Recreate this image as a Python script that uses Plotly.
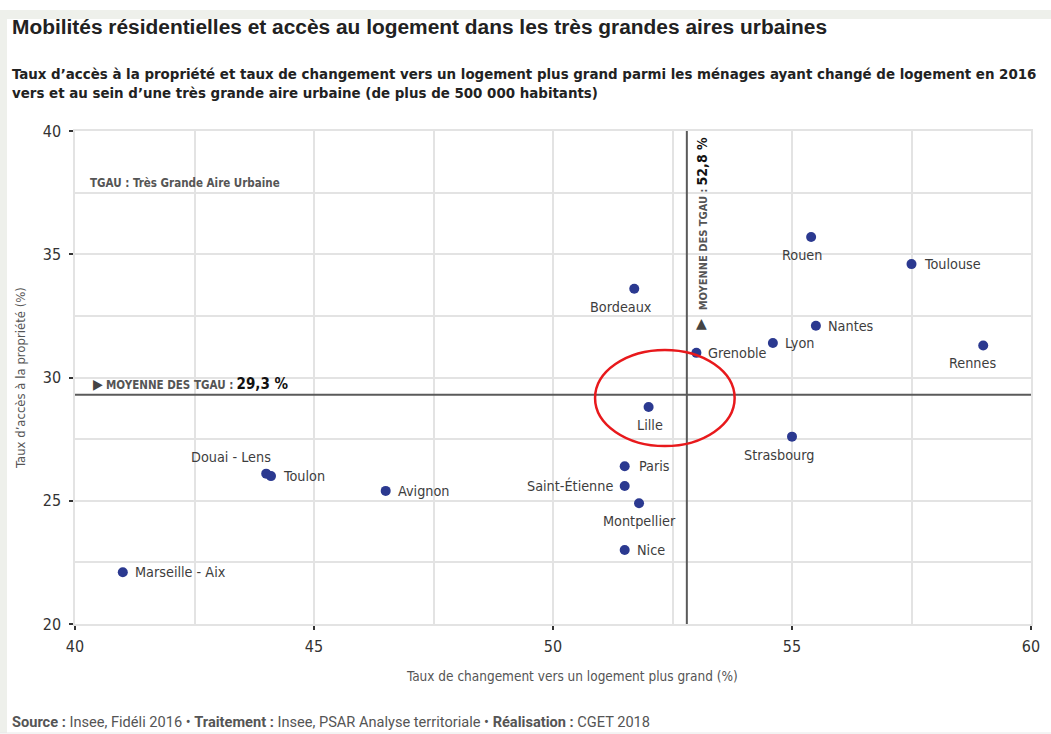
import plotly.graph_objects as go

# ---- data ----
cities = ["Marseille - Aix", "Douai - Lens", "Toulon", "Avignon", "Bordeaux", "Rouen",
          "Toulouse", "Nantes", "Lyon", "Grenoble", "Rennes", "Lille", "Strasbourg",
          "Paris", "Saint-Étienne", "Montpellier", "Nice"]
taux_plus_grand = [41.0, 44.0, 44.1, 46.5, 51.7, 55.4, 57.5, 55.5, 54.6, 53.0, 59.0,
                   52.0, 55.0, 51.5, 51.5, 51.8, 51.5]
taux_propriete = [22.1, 26.1, 26.0, 25.4, 33.6, 35.7, 34.6, 32.1, 31.4, 31.0, 31.3,
                  28.8, 27.6, 26.4, 25.6, 24.9, 23.0]
moyenne_x = 52.8
moyenne_y = 29.3
x_ticks = [40, 45, 50, 55, 60]
y_ticks = [20, 25, 30, 35, 40]
highlight_city = "Lille"

# label placement (style only): side, horizontal pixel shift
label_pos = {
    "Marseille - Aix": ("right", 0), "Douai - Lens": ("upleft", 0), "Toulon": ("right", 0),
    "Avignon": ("right", 0), "Bordeaux": ("below", -13), "Rouen": ("below", -9),
    "Toulouse": ("right", 0), "Nantes": ("right", 0), "Lyon": ("right", 0),
    "Grenoble": ("right", 0), "Rennes": ("below", -11), "Lille": ("below", 1),
    "Strasbourg": ("below", -13), "Paris": ("right", 2), "Saint-Étienne": ("left", 0),
    "Montpellier": ("below", 0), "Nice": ("right", 0),
}

NARROW = "DejaVu Sans Condensed, Roboto"
SANS = "Liberation Sans"
LABEL_COL = "#3d3d3d"
GRID = "#e3e3e3"

L, R, T, B = 75, 20, 131, 110
W, H = 1051, 734
PW, PH = W - L - R, H - T - B


def px(xp):
    return (xp - L) / PW


def py(yp):
    return (H - B - yp) / PH


fig = go.Figure()
fig.add_trace(go.Scatter(
    x=taux_plus_grand, y=taux_propriete, mode="markers",
    marker=dict(size=10, color="#2b3990"), text=cities,
    hoverinfo="text+x+y", showlegend=False, cliponaxis=False,
))

annotations = []
for c, xv, yv in zip(cities, taux_plus_grand, taux_propriete):
    p, dx = label_pos[c]
    a = dict(x=xv, y=yv, xref="x", yref="y", text=c, showarrow=False,
             font=dict(family=NARROW, size=14.3, color=LABEL_COL))
    if p == "right":
        a.update(xanchor="left", yanchor="middle", xshift=10 + dx)
    elif p == "left":
        a.update(xanchor="right", yanchor="middle", xshift=-10 + dx)
    elif p == "below":
        a.update(xanchor="center", yanchor="middle", yshift=-18, xshift=dx)
    elif p == "upleft":
        a.update(xanchor="right", yanchor="middle", yshift=17, xshift=7 + dx)
    annotations.append(a)

# titles
annotations += [
    dict(xref="paper", yref="paper", x=px(10), y=py(27), xanchor="left", yanchor="middle",
         text="<b>Mobilités résidentielles et accès au logement dans les très grandes aires urbaines</b>",
         showarrow=False, font=dict(family=SANS, size=20.9, color="#222222")),
    dict(xref="paper", yref="paper", x=px(10), y=py(63), xanchor="left", yanchor="top",
         align="left",
         text="<b>Taux d’accès à la propriété et taux de changement vers un logement plus grand parmi les ménages ayant changé de logement en 2016"
              "<br>vers et au sein d’une très grande aire urbaine (de plus de 500 000 habitants)</b>",
         showarrow=False, font=dict(family=NARROW, size=14.9, color="#222222")),
    dict(xref="paper", yref="paper", x=px(10), y=py(722), xanchor="left", yanchor="middle",
         text="<b>Source :</b> Insee, Fidéli 2016 • <b>Traitement :</b> Insee, PSAR Analyse territoriale • <b>Réalisation :</b> CGET 2018",
         showarrow=False, font=dict(family="Roboto", size=14.6, color="#555555")),
    # axis titles
    dict(xref="paper", yref="paper", x=px(572), y=py(676), xanchor="center", yanchor="middle",
         text="Taux de changement vers un logement plus grand (%)", showarrow=False,
         font=dict(family=NARROW, size=13.5, color="#555555")),
    dict(xref="paper", yref="paper", x=px(20), y=py(378), xanchor="center", yanchor="middle",
         text="Taux d’accès à la propriété (%)", textangle=-90, showarrow=False,
         font=dict(family=NARROW, size=13, color="#555555")),
    # note
    dict(xref="paper", yref="paper", x=px(88), y=py(183), xanchor="left", yanchor="middle",
         text="<b>TGAU : Très Grande Aire Urbaine</b>", showarrow=False,
         font=dict(family=NARROW, size=11.5, color="#555555")),
    # horizontal mean label
    dict(xref="paper", yref="y", x=px(91), y=moyenne_y, yshift=11, xanchor="left", yanchor="middle",
         text="<span style='color:#444;font-size:14px'>▶</span> <b>MOYENNE DES TGAU :</b> <b><span style='font-size:15px;color:#111'>"
              + f"{moyenne_y:.1f}".replace(".", ",") + " %</span></b>",
         showarrow=False, font=dict(family=NARROW, size=11.5, color="#555555")),
    # vertical mean label
    dict(xref="x", yref="paper", x=moyenne_x, y=py(135), xshift=15, xanchor="center", yanchor="top",
         text="<b>MOYENNE DES TGAU :</b> <b><span style='font-size:14px;color:#111'>"
              + f"{moyenne_x:.1f}".replace(".", ",") + " %</span></b>",
         textangle=-90, showarrow=False, font=dict(family=NARROW, size=11, color="#555555")),
    dict(xref="x", yref="paper", x=moyenne_x, y=py(323), xshift=15, xanchor="center", yanchor="middle",
         text="▲", showarrow=False, font=dict(family="DejaVu Sans", size=14, color="#444444")),
]

hi = cities.index(highlight_city)
hx, hy = taux_plus_grand[hi], taux_propriete[hi]

shapes = [
    # frame decorations
    dict(type="rect", xref="paper", yref="paper", x0=px(0), x1=px(W), y0=py(19), y1=py(10),
         fillcolor="#eef0eb", line=dict(width=0), layer="below"),
    dict(type="rect", xref="paper", yref="paper", x0=px(0), x1=px(7), y0=py(733), y1=py(10),
         fillcolor="#eef0eb", line=dict(width=0), layer="below"),
    dict(type="line", xref="paper", yref="paper", x0=px(0), x1=px(W), y0=py(733), y1=py(733),
         line=dict(color="#e8e8e8", width=1)),
    # mean lines
    dict(type="line", xref="paper", yref="y", x0=0, x1=1, y0=moyenne_y, y1=moyenne_y,
         line=dict(color="#5a5a5a", width=2), layer="above"),
    dict(type="line", xref="x", yref="paper", x0=moyenne_x, x1=moyenne_x, y0=0, y1=1,
         line=dict(color="#5a5a5a", width=2), layer="above"),
    # highlight ellipse
    dict(type="circle", xref="x", yref="y", x0=hx - 1.12, x1=hx + 1.8, y0=hy - 1.58, y1=hy + 2.32,
         line=dict(color="#e8191c", width=2.5), layer="above"),
]

axis_common = dict(
    showgrid=True, gridcolor=GRID, gridwidth=1.5,
    minor=dict(dtick=2.5, showgrid=True, gridcolor=GRID, gridwidth=1.5, ticks=""),
    showline=True, linecolor=GRID, linewidth=1.5, mirror=True,
    zeroline=False, ticks="outside", ticklen=4, tickwidth=2, tickcolor="#333333",
    tickfont=dict(family=NARROW, size=16, color="#333333"),
)

fig.update_layout(
    width=W, height=H,
    margin=dict(l=L, r=R, t=T, b=B),
    paper_bgcolor="white", plot_bgcolor="white",
    xaxis=dict(range=[x_ticks[0], x_ticks[-1]], tickvals=x_ticks, ticklabelstandoff=3, **axis_common),
    yaxis=dict(range=[y_ticks[0], y_ticks[-1]], tickvals=y_ticks, ticklabelstandoff=5, **axis_common),
    annotations=annotations, shapes=shapes,
)

fig.write_html("out.html", config={"displayModeBar": False},
               post_script="document.body.style.margin='0';")
